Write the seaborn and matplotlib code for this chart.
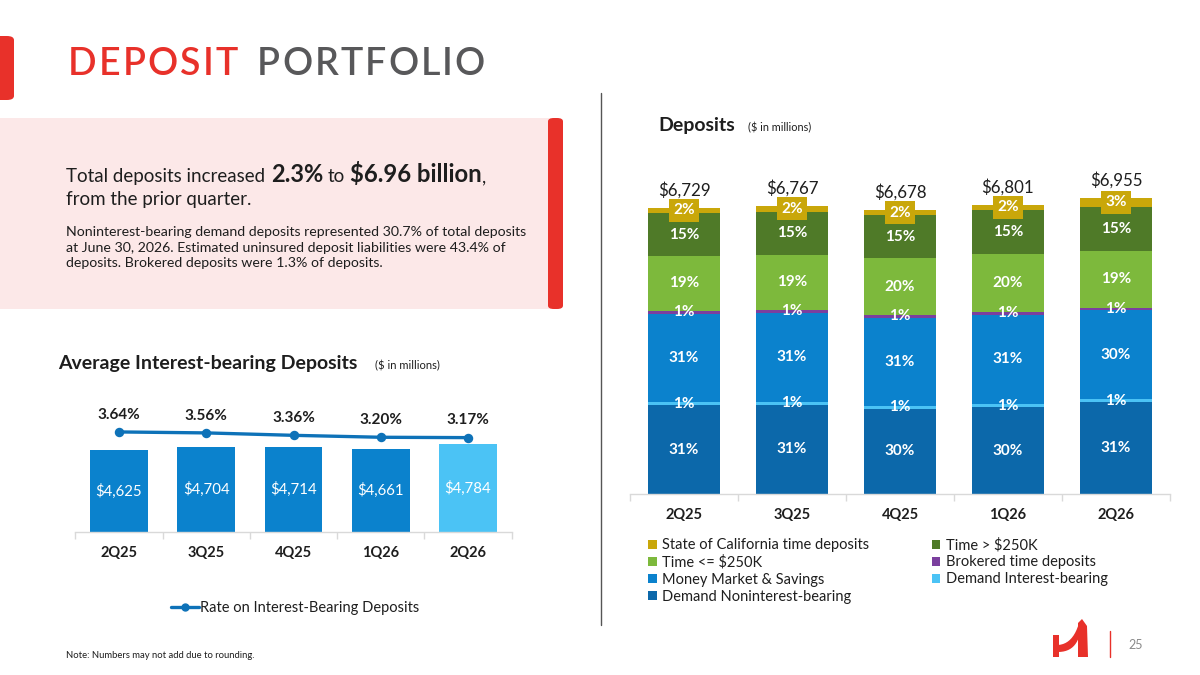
import numpy as np
import pandas as pd
import matplotlib
matplotlib.use("Agg")
import matplotlib.pyplot as plt
import seaborn as sns
from matplotlib.patches import FancyBboxPatch, Rectangle, Polygon, Patch
from matplotlib.lines import Line2D

# --- data ---
quarters = ["2Q25", "3Q25", "4Q25", "1Q26", "2Q26"]

# deposits ($ in millions) and mix (%)
total_deposits = [6729, 6767, 6678, 6801, 6955]
pct_demand_nib = [31, 31, 30, 30, 31]
pct_demand_ib = [1, 1, 1, 1, 1]
pct_mm_savings = [31, 31, 31, 31, 30]
pct_brokered = [1, 1, 1, 1, 1]
pct_time_small = [19, 19, 20, 20, 19]
pct_time_large = [15, 15, 15, 15, 15]
pct_state_ca = [2, 2, 2, 2, 3]

# average interest-bearing deposits ($ in millions) and rate (%)
avg_ib_deposits = [4625, 4704, 4714, 4661, 4784]
ib_rate = [3.64, 3.56, 3.36, 3.20, 3.17]

# colours
RED = "#E8312A"
GREY_TITLE = "#58585A"
TXT = "#1E1E1E"
C_NIB = "#0C68AA"
C_DIB = "#4BC3F5"
C_MM = "#0B82CD"
C_BRK = "#7B3F9E"
C_TSM = "#7DB93C"
C_TLG = "#4F7A28"
C_CA = "#C9A70A"
C_LINE = "#0E72B8"

# bottom -> top
series = [
    ("Demand Noninterest-bearing", pct_demand_nib, C_NIB),
    ("Demand Interest-bearing", pct_demand_ib, C_DIB),
    ("Money Market & Savings", pct_mm_savings, C_MM),
    ("Brokered time deposits", pct_brokered, C_BRK),
    ("Time <= $250K", pct_time_small, C_TSM),
    ("Time > $250K", pct_time_large, C_TLG),
    ("State of California time deposits", pct_state_ca, C_CA),
]

sns.set_theme(style="white")
plt.rcParams["font.family"] = ["Lato", "DejaVu Sans"]

W, H = 1200, 675
fig = plt.figure(figsize=(12, 6.75), dpi=100)
renderer = fig.canvas.get_renderer()


def fx(x):
    return x / W


def fy(y):
    return 1 - y / H


def style_cat_axis(ax):
    for s in ["top", "right", "left"]:
        ax.spines[s].set_visible(False)
    ax.spines["bottom"].set_color("#D9D9D9")
    ax.spines["bottom"].set_linewidth(1)
    ax.set_yticks([])
    ax.set_xlim(-0.5, 4.5)
    ax.set_xticks(np.arange(-0.5, 5, 1), minor=True)
    ax.tick_params(axis="x", which="major", length=0, pad=10)
    ax.tick_params(axis="x", which="minor", length=5, color="#D9D9D9", width=1, bottom=True)
    ax.set_xlabel("")
    ax.set_ylabel("")
    for lab in ax.get_xticklabels():
        lab.set_fontweight("bold")
        lab.set_fontsize(10.5)
        lab.set_color(TXT)


# --- right: stacked deposits ---
ax_r = fig.add_axes([fx(630), fy(494), 540 / W, 329 / H])
seg = pd.DataFrame({name: vals for name, vals, _ in series}, index=quarters)
cum = seg.cumsum(axis=1)
totals = np.array(total_deposits)
for name, vals, color in reversed(series):
    tops = cum[name].values / 100 * totals
    sns.barplot(x=quarters, y=tops, color=color, saturation=1, width=0.67,
                errorbar=None, linewidth=0, ax=ax_r)
ax_r.set_ylim(0, 7730)
style_cat_axis(ax_r)

for name, vals, color in series:
    centers = (cum[name].values - np.array(vals) / 2) / 100 * totals
    for i, (c, v) in enumerate(zip(centers, vals)):
        kw = {}
        if name.startswith("State"):
            kw["bbox"] = dict(boxstyle="square,pad=0.3", fc=C_CA, ec="none")
        ax_r.text(i, c, f"{v}%", ha="center", va="center", color="white",
                  fontsize=11, fontweight="bold", **kw)
for i, t in enumerate(total_deposits):
    ax_r.annotate(f"${t:,}", (i, t), xytext=(0, 12.5), textcoords="offset points",
                  ha="center", va="center", fontsize=12.2, color=TXT)

legend_order = [6, 4, 2, 0, 5, 3, 1]
handles = [Patch(facecolor=series[k][2], edgecolor="none") for k in legend_order]
labels = [series[k][0] for k in legend_order]
fig.legend(handles, labels, loc="upper left", bbox_to_anchor=(fx(648), fy(538)),
           ncol=2, frameon=False, fontsize=10.5, handlelength=0.6, handleheight=0.6,
           handletextpad=0.35, columnspacing=4.3, labelspacing=0.2,
           borderaxespad=0, borderpad=0, labelcolor=TXT)

# --- left: average interest-bearing deposits ---
ax_l = fig.add_axes([fx(75.4), fy(532), 436.2 / W, 132 / H])
sns.barplot(x=quarters, y=avg_ib_deposits, hue=quarters, legend=False,
            palette=[C_MM, C_MM, C_MM, C_MM, C_DIB], saturation=1, width=0.66,
            errorbar=None, linewidth=0, ax=ax_l)
ax_l.set_ylim(2450, 5951)
style_cat_axis(ax_l)
for i, v in enumerate(avg_ib_deposits):
    ax_l.text(i, (v + 2450) / 2, f"${v:,}", ha="center", va="center",
              color="white", fontsize=10.8)

ax_t = ax_l.twinx()
sns.pointplot(x=quarters, y=ib_rate, color=C_LINE, markersize=5, linewidth=2.4,
              errorbar=None, ax=ax_t)
ax_t.set_ylim(-4.63, 6.28)
ax_t.set_xlim(-0.5, 4.5)
ax_t.axis("off")
for i, r in enumerate(ib_rate):
    ax_t.annotate(f"{r:.2f}%", (i, r), xytext=(0, 12.5), textcoords="offset points",
                  ha="center", va="center", fontsize=11, fontweight="bold", color=TXT)

fig.legend([Line2D([], [], color=C_LINE, lw=2.4, marker="o", ms=5)],
           ["Rate on Interest-Bearing Deposits"], loc="center",
           bbox_to_anchor=(fx(295), fy(608)), frameon=False, fontsize=10.5,
           handlelength=1.9, handletextpad=0.05, labelcolor=TXT)

# --- slide decoration ---
fig.add_artist(FancyBboxPatch((fx(-10), fy(100)), 24 / W, 64 / H, transform=fig.transFigure,
                              boxstyle="round,pad=0,rounding_size=0.006", fc=RED, ec="none"))
fig.add_artist(Rectangle((fx(0), fy(309)), 555 / W, 191 / H, transform=fig.transFigure,
                         fc="#FCE8E8", ec="none"))
fig.add_artist(FancyBboxPatch((fx(548), fy(309)), 15 / W, 191 / H, transform=fig.transFigure,
                              boxstyle="round,pad=0,rounding_size=0.005", fc=RED, ec="none"))
fig.add_artist(Line2D([fx(601), fx(601)], [fy(93), fy(625)], transform=fig.transFigure,
                      color="#555555", lw=1))


def spaced_word(word, x0, x1, y, color, size):
    arts, widths = [], []
    for ch in word:
        t = fig.text(0, fy(y), ch, fontsize=size, fontweight="semibold", color=color,
                     va="baseline")
        widths.append(t.get_window_extent(renderer).width)
        arts.append(t)
    gap = ((x1 - x0) - sum(widths)) / (len(word) - 1)
    x = x0
    for t, w in zip(arts, widths):
        t.set_x(fx(x))
        x += w + gap


spaced_word("DEPOSIT", 68, 238, 75, RED, 27)
spaced_word("PORTFOLIO", 257, 485, 75, GREY_TITLE, 27)


def run_text(x, y, pieces):
    for txt, size, weight, gap in pieces:
        t = fig.text(fx(x), fy(y), txt, fontsize=size, fontweight=weight, color=TXT,
                     va="baseline", ha="left")
        x = t.get_window_extent(renderer).x1 + gap


run_text(66, 182, [("Total deposits increased", 13.5, "normal", 6),
                   ("2.3%", 17, "bold", 4),
                   ("to", 13.5, "normal", 5),
                   ("$6.96 billion", 17.2, "bold", 0.5),
                   (",", 13.5, "normal", 0)])
fig.text(fx(66), fy(205), "from the prior quarter.", fontsize=13.5, color=TXT, va="baseline")
para = ["Noninterest-bearing demand deposits represented 30.7% of total deposits",
        "at June 30, 2026. Estimated uninsured deposit liabilities were 43.4% of",
        "deposits. Brokered deposits were 1.3% of deposits."]
for k, line in enumerate(para):
    fig.text(fx(66), fy(235.7 + 15.8 * k), line, fontsize=10.2, color=TXT, va="baseline")

fig.text(fx(58), fy(364), "Average Interest-bearing Deposits", fontsize=14,
         fontweight="bold", color=TXT, va="center")
fig.text(fx(375), fy(366), "($ in millions)", fontsize=8, color=TXT, va="center")
fig.text(fx(658), fy(126), "Deposits", fontsize=14, fontweight="bold", color=TXT, va="center")
fig.text(fx(748), fy(128), "($ in millions)", fontsize=7.8, color=TXT, va="center")
fig.text(fx(66), fy(655), "Note: Numbers may not add due to rounding.", fontsize=6.8,
         color=TXT, va="center")


# logo + page number
def qcurve(p0, p1, p2, n=12):
    ts = np.linspace(0, 1, n)
    return [((1 - t) ** 2 * p0[0] + 2 * (1 - t) * t * p1[0] + t ** 2 * p2[0],
             (1 - t) ** 2 * p0[1] + 2 * (1 - t) * t * p1[1] + t ** 2 * p2[1]) for t in ts]


sweep = qcurve((1058, 645), (1073, 644), (1079, 623)) + qcurve((1079, 637), (1074, 652), (1058, 652))
logo = [
    [(1053, 635), (1059, 635), (1059, 657), (1053, 657)],
    sweep,
    [(1078, 623), (1082, 619), (1087, 626), (1088, 657), (1078, 657)],
]
for poly in logo:
    fig.add_artist(Polygon([(fx(a), fy(b)) for a, b in poly], closed=True,
                           transform=fig.transFigure, fc=RED, ec="none"))
fig.add_artist(Line2D([fx(1110), fx(1110)], [fy(631), fy(657)], transform=fig.transFigure,
                      color=RED, lw=1))
fig.text(fx(1136), fy(645), "25", fontsize=9, color="#8A8A8A", ha="center", va="center")

fig.savefig("out.png", dpi=100)
